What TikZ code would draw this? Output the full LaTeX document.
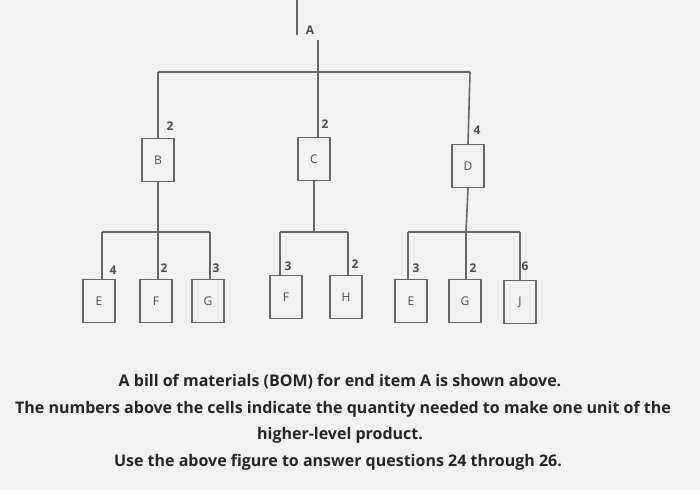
\documentclass[tikz,border=0pt]{standalone}
\usepackage{fontspec}
\setmainfont{Open Sans}
\begin{document}
\begin{tikzpicture}[x=0.75pt,y=-0.75pt,
  ln/.style={draw=black!60,line width=1.2pt},
  bx/.style={draw=black!60,line width=1.1pt,minimum width=24pt,minimum height=32pt,inner sep=0pt,font=\small,text=black!70},
  qty/.style={font=\small\bfseries,text=black!70,inner sep=1pt},
  captxt/.style={font=\fontsize{12}{14}\selectfont\bfseries,text=black!85}]
\fill[black!5] (0,0) rectangle (700,490);
\useasboundingbox (0,0) rectangle (700,490);
\node[font=\small\bfseries,text=black!70] (A) at (310,30) {A};
\draw[ln] (297,0) -- (297,35);
\coordinate (a0) at (318,40);
\coordinate (hl) at (158,72); \coordinate (hr) at (470,72);
\node[bx] (B) at (158,160) {B};
\node[bx] (C) at (314,159) {C};
\node[bx] (D) at (468,166) {D};
\draw[ln] (a0) -- (318,72);
\draw[ln] (hl) -- (hr);
\draw[ln] (hl) -- (B.north);
\draw[ln] (318,72) -- (318,137);
\draw[ln] (hr) -- (D.north);
\node[qty] (qB) at (170,126) {2};
\node[qty] (qC) at (325,124) {2};
\node[qty] (qD) at (477,130) {4};
% children
\node[bx] (E1) at (99,301) {E};
\node[bx] (F1) at (156,301) {F};
\node[bx] (G1) at (208,301) {G};
\node[bx] (F2) at (286,297) {F};
\node[bx] (H) at (346,297) {H};
\node[bx] (E2) at (411,301) {E};
\node[bx] (G2) at (465,301) {G};
\node[bx] (J) at (520,302) {J};
\draw[ln] (B.south) -- (158,232);
\draw[ln] (102,232) -- (210,232);
\draw[ln] (102,232) -- (102,280); \draw[ln] (158,232) -- (158,280); \draw[ln] (210,232) -- (210,280);
\draw[ln] (C.south) -- (314,232);
\draw[ln] (280,232) -- (348,232);
\draw[ln] (280,232) -- (280,276); \draw[ln] (348,232) -- (348,276);
\draw[ln] (D.south) -- (466,232);
\draw[ln] (408,232) -- (520,232);
\draw[ln] (408,232) -- (408,280); \draw[ln] (466,232) -- (466,280); \draw[ln] (520,232) -- (520,281);
\node[qty] at (113,270) {4};
\node[qty] at (164,268) {2};
\node[qty] at (216,268) {3};
\node[qty] at (288,266) {3};
\node[qty] at (355,264) {2};
\node[qty] at (416,268) {3};
\node[qty] at (473,268) {2};
\node[qty] at (525,266) {6};
\node[captxt] (t1) at (340,382) {A bill of materials (BOM) for end item A is shown above.};
\node[captxt] (t2) at (343,409) {The numbers above the cells indicate the quantity needed to make one unit of the};
\node[captxt] (t3) at (340,435) {higher-level product.};
\node[captxt] (t4) at (338,462) {Use the above figure to answer questions 24 through 26.};
\end{tikzpicture}
\end{document}
